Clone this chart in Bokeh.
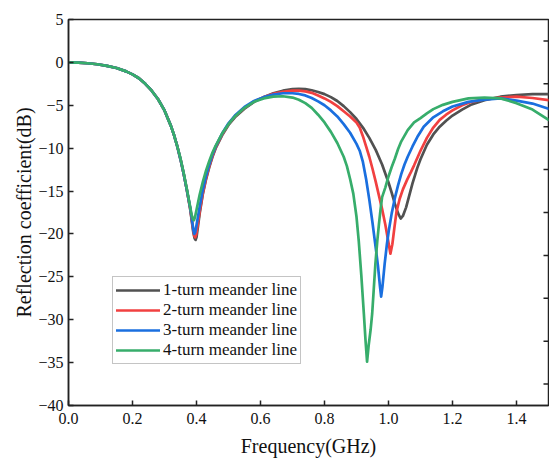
from bokeh.plotting import figure
from bokeh.models import FixedTicker, Range1d, Legend, LegendItem, NumeralTickFormatter
from bokeh.embed import file_html
from bokeh.resources import INLINE

# ---------------- data ----------------
freq_1 = [0, 0.03, 0.06, 0.09, 0.12, 0.15, 0.18, 0.2, 0.22, 0.24, 0.26, 0.28, 0.3, 0.32, 0.33,
          0.34, 0.35, 0.36, 0.37, 0.38, 0.385, 0.39, 0.394, 0.397, 0.4, 0.404, 0.41, 0.42, 0.43,
          0.44, 0.45, 0.46, 0.48, 0.5, 0.52, 0.55, 0.58, 0.61, 0.64, 0.67, 0.7, 0.72, 0.74,
          0.76, 0.78, 0.8, 0.82, 0.84, 0.86, 0.88, 0.9, 0.92, 0.94, 0.96, 0.98, 1.0, 1.01, 1.02,
          1.03, 1.038, 1.045, 1.055, 1.065, 1.075, 1.09, 1.1, 1.12, 1.14, 1.16, 1.18, 1.2, 1.23,
          1.26, 1.3, 1.35, 1.4, 1.45, 1.5]
s11_1 = [0, -0.03, -0.1, -0.22, -0.4, -0.65, -1.05, -1.4, -1.85, -2.5, -3.3, -4.3, -5.6, -7.4,
         -8.5, -9.8, -11.3, -13.0, -14.9, -17.0, -18.4, -19.8, -20.5, -20.7, -20.4, -19.3, -17.6,
         -15.3, -13.6, -12.2, -11.0, -10.0, -8.5, -7.3, -6.4, -5.4, -4.6, -4.05, -3.6, -3.3,
         -3.12, -3.08, -3.12, -3.25, -3.45, -3.7, -4.05, -4.5, -5.1, -5.8, -6.6, -7.6, -8.8,
         -10.2, -11.9, -14.0, -15.2, -16.5, -17.6, -18.2, -17.9, -16.9, -15.5, -14.1, -12.3,
         -11.3, -9.6, -8.4, -7.5, -6.8, -6.2, -5.5, -4.9, -4.4, -4.0, -3.8, -3.7, -3.7]

freq_2 = [0, 0.03, 0.06, 0.09, 0.12, 0.15, 0.18, 0.2, 0.22, 0.24, 0.26, 0.28, 0.3, 0.32, 0.33,
          0.34, 0.35, 0.36, 0.37, 0.38, 0.385, 0.39, 0.393, 0.396, 0.399, 0.403, 0.41, 0.42, 0.43,
          0.44, 0.45, 0.46, 0.48, 0.5, 0.52, 0.55, 0.58, 0.61, 0.64, 0.67, 0.7, 0.72, 0.74,
          0.76, 0.78, 0.8, 0.82, 0.84, 0.86, 0.88, 0.9, 0.91, 0.92, 0.93, 0.94, 0.95, 0.96, 0.97,
          0.98, 0.99, 0.998, 1.006, 1.012, 1.018, 1.025, 1.035, 1.045, 1.058, 1.07, 1.08, 1.1,
          1.12, 1.14, 1.16, 1.18, 1.2, 1.23, 1.26, 1.3, 1.35, 1.4, 1.45, 1.5]
s11_2 = [0, -0.03, -0.1, -0.22, -0.4, -0.65, -1.05, -1.4, -1.85, -2.5, -3.3, -4.3, -5.6, -7.4,
         -8.5, -9.8, -11.3, -13.0, -14.9, -17.0, -18.3, -19.6, -20.2, -20.4, -20.1, -19.1, -17.4,
         -15.2, -13.5, -12.1, -10.9, -9.9, -8.4, -7.2, -6.3, -5.3, -4.55, -4.05, -3.65, -3.42,
         -3.3, -3.3, -3.38, -3.55, -3.85, -4.2, -4.6, -5.1, -5.7, -6.3, -7.0, -7.6, -8.6, -9.8,
         -11.0, -12.4, -13.9, -15.5, -17.1, -18.9, -20.6, -22.3, -21.2, -19.4, -17.4, -15.9,
         -14.8, -13.7, -12.8, -12.0, -10.3, -8.8, -7.6, -6.7, -6.1, -5.6, -5.0, -4.6, -4.3,
         -4.1, -4.0, -4.15, -4.4]

freq_3 = [0, 0.03, 0.06, 0.09, 0.12, 0.15, 0.18, 0.2, 0.22, 0.24, 0.26, 0.28, 0.3, 0.32, 0.33,
          0.34, 0.35, 0.36, 0.37, 0.38, 0.385, 0.39, 0.393, 0.396, 0.4, 0.405, 0.41, 0.42, 0.43,
          0.44, 0.45, 0.46, 0.48, 0.5, 0.52, 0.55, 0.58, 0.61, 0.64, 0.67, 0.7, 0.72, 0.74,
          0.76, 0.78, 0.8, 0.82, 0.84, 0.86, 0.88, 0.9, 0.91, 0.92, 0.93, 0.94, 0.95, 0.96,
          0.967, 0.973, 0.977, 0.981, 0.988, 0.995, 1.001, 1.01, 1.02, 1.03, 1.04, 1.05, 1.06,
          1.075, 1.09, 1.11, 1.14, 1.17, 1.2, 1.25, 1.3, 1.35, 1.4, 1.45, 1.5]
s11_3 = [0, -0.03, -0.1, -0.22, -0.4, -0.65, -1.05, -1.4, -1.85, -2.5, -3.3, -4.3, -5.6, -7.4,
         -8.5, -9.8, -11.3, -13.0, -14.9, -16.9, -18.1, -19.5, -20.0, -19.8, -19.0, -17.9, -16.8,
         -14.8, -13.2, -11.9, -10.7, -9.8, -8.3, -7.1, -6.2, -5.2, -4.5, -4.05, -3.75, -3.6,
         -3.6, -3.68, -3.85, -4.15, -4.55, -5.0, -5.6, -6.3, -7.2, -8.2, -9.5, -10.3, -11.6,
         -13.6, -16.0, -18.7, -21.6, -23.7, -26.0, -27.3, -26.2, -23.5, -21.2, -19.6, -17.6,
         -15.8, -14.3, -13.0, -11.9, -11.0, -9.8, -8.7, -7.5, -6.4, -5.7, -5.15, -4.6, -4.35,
         -4.2, -4.45, -4.8, -5.4]

freq_4 = [0, 0.03, 0.06, 0.09, 0.12, 0.15, 0.18, 0.2, 0.22, 0.24, 0.26, 0.28, 0.3, 0.32, 0.33,
          0.34, 0.35, 0.36, 0.37, 0.38, 0.385, 0.389, 0.392, 0.395, 0.4, 0.405, 0.41, 0.42, 0.43,
          0.44, 0.45, 0.46, 0.48, 0.5, 0.52, 0.55, 0.58, 0.61, 0.64, 0.67, 0.7, 0.72, 0.74,
          0.76, 0.78, 0.8, 0.82, 0.84, 0.86, 0.87, 0.88, 0.89, 0.9, 0.907, 0.915, 0.923, 0.928,
          0.933, 0.938, 0.944, 0.949, 0.954, 0.959, 0.965, 0.97, 0.975, 0.98, 0.99, 1.0, 1.01,
          1.02, 1.03, 1.04, 1.06, 1.08, 1.1, 1.12, 1.14, 1.17, 1.2, 1.25, 1.3, 1.35, 1.4, 1.45,
          1.5]
s11_4 = [0, -0.03, -0.1, -0.22, -0.4, -0.65, -1.05, -1.4, -1.85, -2.5, -3.3, -4.3, -5.6, -7.4,
         -8.5, -9.8, -11.2, -12.9, -14.8, -16.8, -17.8, -18.3, -18.4, -18.1, -17.2, -16.3, -15.4,
         -13.9, -12.6, -11.5, -10.5, -9.7, -8.3, -7.2, -6.3, -5.3, -4.6, -4.2, -4.0, -3.95,
         -4.1, -4.35, -4.75, -5.3, -6.1, -7.0, -8.1, -9.4, -11.0, -12.1, -13.6, -15.3, -18.0,
         -20.8, -24.8, -29.3, -32.3, -34.9, -33.0, -31.2, -29.3, -26.4, -23.5, -20.8, -18.9,
         -17.2, -15.7, -14.6, -13.3, -12.2, -11.2, -10.1, -9.2, -7.9, -7.0, -6.5, -5.95, -5.45,
         -4.95, -4.6, -4.2, -4.1, -4.2, -4.75, -5.5, -6.7]

series_labels = ["1-turn meander line", "2-turn meander line",
                 "3-turn meander line", "4-turn meander line"]
series_colors = ["#515151", "#F14040", "#1A6FDF", "#37AD6B"]

x_min, x_max = 0.0, 1.5
y_min, y_max = -40, 5
x_ticks = [0.0, 0.2, 0.4, 0.6, 0.8, 1.0, 1.2, 1.4]
y_ticks = [5, 0, -5, -10, -15, -20, -25, -30, -35, -40]
y_right_ticks = [2.5, -2.5, -7.5, -12.5, -17.5, -22.5, -27.5, -32.5, -37.5]

FONT = "Liberation Serif"
AXIS_COLOR = "#222222"

# ---------------- figure ----------------
p = figure(width=549, height=461, output_backend="svg", toolbar_location=None,
           x_range=Range1d(x_min, x_max), y_range=Range1d(y_min, y_max),
           min_border_left=68, min_border_right=1, min_border_top=19, min_border_bottom=56)
p.frame_width = 480
p.frame_height = 386
p.background_fill_color = "white"
p.border_fill_color = "white"
p.grid.visible = False
p.outline_line_color = AXIS_COLOR
p.outline_line_width = 1.5

renderers = []
for fx, fy, c in [(freq_1, s11_1, series_colors[0]), (freq_2, s11_2, series_colors[1]),
                  (freq_3, s11_3, series_colors[2]), (freq_4, s11_4, series_colors[3])]:
    r = p.line(fx, fy, line_color=c, line_width=2.7, line_join="round", line_cap="round")
    renderers.append(r)

# inward tick marks on the right frame edge
p.scatter(x=[x_max] * len(y_right_ticks), y=y_right_ticks, marker="dash", size=10,
          line_color=AXIS_COLOR, line_width=1.5)

# axes
xa = p.xaxis[0]
xa.ticker = FixedTicker(ticks=x_ticks)
xa.formatter = NumeralTickFormatter(format="0.0")
ya = p.yaxis[0]
ya.ticker = FixedTicker(ticks=y_ticks)
for ax in (xa, ya):
    ax.major_tick_in = 5
    ax.major_tick_out = 0
    ax.minor_tick_in = 0
    ax.minor_tick_out = 0
    ax.axis_line_color = AXIS_COLOR
    ax.axis_line_width = 1.5
    ax.major_tick_line_color = AXIS_COLOR
    ax.major_tick_line_width = 1.5
    ax.major_label_text_font = FONT
    ax.major_label_text_font_size = "16px"
    ax.major_label_text_color = "#111111"
    ax.axis_label_text_font = FONT
    ax.axis_label_text_font_size = "20px"
    ax.axis_label_text_font_style = "normal"
    ax.axis_label_text_color = "#111111"
xa.axis_label = "Frequency(GHz)"
ya.axis_label = "Reflection coefficient(dB)"
xa.major_label_standoff = 7
xa.axis_label_standoff = 8
ya.major_label_standoff = 5
ya.axis_label_standoff = 0

legend = Legend(items=[LegendItem(label=series_labels[i], renderers=[renderers[i]])
                       for i in range(4)],
                location=(44, 41), orientation="vertical")
legend.label_text_font = FONT
legend.label_text_font_size = "17px"
legend.label_text_color = "#111111"
legend.glyph_width = 44
legend.glyph_height = 20
legend.label_height = 20
legend.label_standoff = 3
legend.spacing = 0
legend.padding = 3
legend.margin = 0
legend.border_line_color = "#8a8a8a"
legend.border_line_width = 1
legend.background_fill_alpha = 1
p.add_layout(legend, "center")

open("out.html", "w").write(file_html(p, INLINE))
